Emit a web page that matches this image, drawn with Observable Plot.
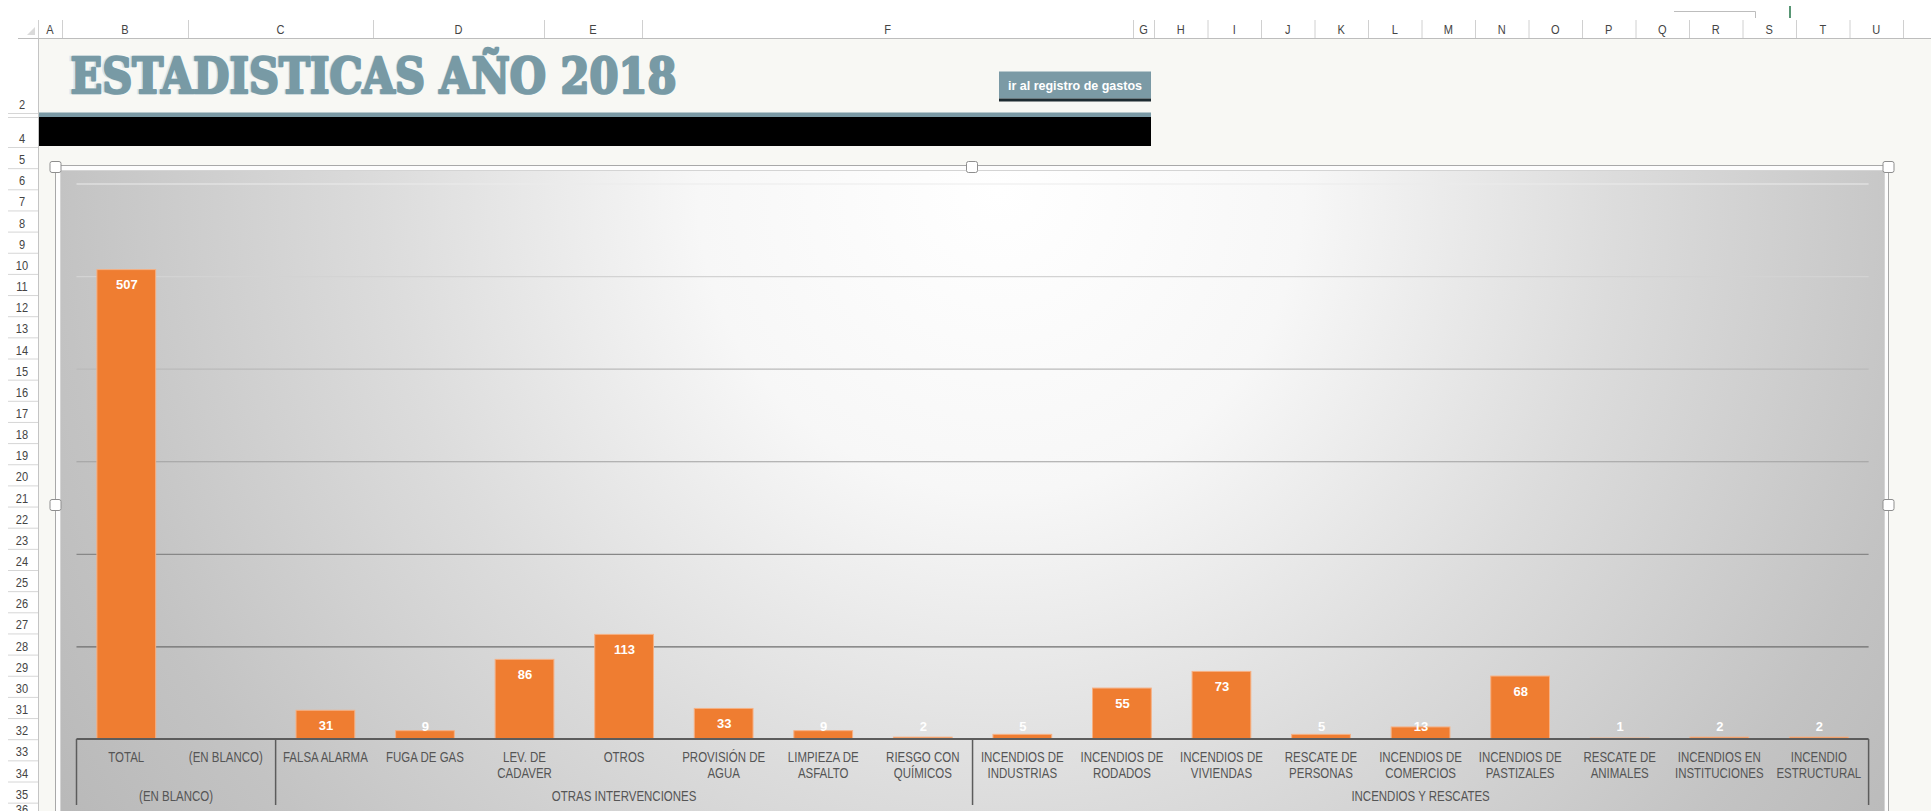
<!DOCTYPE html>
<html><head><meta charset="utf-8">
<script src="https://cdn.jsdelivr.net/npm/d3@7"></script>
<script src="https://cdn.jsdelivr.net/npm/@observablehq/plot@0.6"></script>
<style>
body{margin:0;width:1931px;height:811px;overflow:hidden;background:#f8f8f4;position:relative;font-family:"Liberation Sans",sans-serif}
#chrome{position:absolute;left:0;top:0}
#chart{position:absolute;left:60px;top:170px}
#overlay{position:absolute;left:0;top:0;pointer-events:none}
</style></head><body>
<svg id="chrome" width="1931" height="811"></svg>
<div id="chart"></div>
<svg id="overlay" width="1931" height="811"></svg>
<script>
// ---------- chart data ----------
const categories = ["TOTAL","(EN BLANCO)","FALSA ALARMA","FUGA DE GAS","LEV. DE CADAVER","OTROS","PROVISIÓN DE AGUA","LIMPIEZA DE ASFALTO","RIESGO CON QUÍMICOS","INCENDIOS DE INDUSTRIAS","INCENDIOS DE RODADOS","INCENDIOS DE VIVIENDAS","RESCATE DE PERSONAS","INCENDIOS DE COMERCIOS","INCENDIOS DE PASTIZALES","RESCATE DE ANIMALES","INCENDIOS EN INSTITUCIONES","INCENDIO ESTRUCTURAL"];
const axisLabels = ["TOTAL","(EN BLANCO)","FALSA ALARMA","FUGA DE GAS","LEV. DE\nCADAVER","OTROS","PROVISIÓN DE\nAGUA","LIMPIEZA DE\nASFALTO","RIESGO CON\nQUÍMICOS","INCENDIOS DE\nINDUSTRIAS","INCENDIOS DE\nRODADOS","INCENDIOS DE\nVIVIENDAS","RESCATE DE\nPERSONAS","INCENDIOS DE\nCOMERCIOS","INCENDIOS DE\nPASTIZALES","RESCATE DE\nANIMALES","INCENDIOS EN\nINSTITUCIONES","INCENDIO\nESTRUCTURAL"];
const values = [507,null,31,9,86,113,33,9,2,5,55,73,5,13,68,1,2,2];
const groups = ["(EN BLANCO)","OTRAS INTERVENCIONES","INCENDIOS Y RESCATES"];
const groupSizes = [2,7,9];
const yTicks = [100,200,300,400,500,600];

// ---------- spreadsheet chrome text ----------
const title = "ESTADISTICAS AÑO 2018";
const buttonText = "ir al registro de gastos";
const columnLetters = ["A","B","C","D","E","F","G","H","I","J","K","L","M","N","O","P","Q","R","S","T","U"];
const rowNumbers = [2,4,5,6,7,8,9,10,11,12,13,14,15,16,17,18,19,20,21,22,23,24,25,26,27,28,29,30,31,32,33,34,35,36];

// layout of the sheet grid (not chart data)
const colEdges = [38,62,188,373,544,642,1133,1154,1207.5,1261,1314.5,1368,1421.5,1475,1528.5,1582,1635.5,1689,1742.5,1796,1849.5,1903];
function rowBox(n){
  if(n===2) return [38,113];
  if(n===4) return [117,147];
  const t = 147 + (n-5)*21.15; return [t, t+21.15];
}
const SANS = "'Liberation Sans',Arial,sans-serif";

const chrome = d3.select("#chrome");
const defs = chrome.append("defs");
const rg = defs.append("radialGradient").attr("id","areaGrad").attr("gradientUnits","userSpaceOnUse")
  .attr("cx",1000).attr("cy",190).attr("r",1120);
[[0,"#ffffff"],[0.27,"#f7f7f7"],[0.55,"#dcdcdc"],[0.84,"#c3c3c3"],[1,"#b9b9b9"]]
  .forEach(([o,c])=>rg.append("stop").attr("offset",o).attr("stop-color",c));

// header strip & row column
chrome.append("rect").attr("x",0).attr("y",0).attr("width",1931).attr("height",38).attr("fill","#ffffff");
chrome.append("rect").attr("x",0).attr("y",38).attr("width",38).attr("height",773).attr("fill","#ffffff");
chrome.append("line").attr("x1",18).attr("x2",1931).attr("y1",38.5).attr("y2",38.5).attr("stroke","#bdbdbd");
chrome.append("line").attr("x1",38.5).attr("x2",38.5).attr("y1",20).attr("y2",811).attr("stroke","#c4c4c4");
chrome.append("path").attr("d","M27,35 L35,35 L35,27 Z").attr("fill","#dadada");
colEdges.forEach(x=>chrome.append("line").attr("x1",x+0.5).attr("x2",x+0.5).attr("y1",20).attr("y2",38).attr("stroke","#d0d0d0"));
columnLetters.forEach((c,i)=>{
  const cx = (colEdges[i]+colEdges[i+1])/2;
  chrome.append("text").attr("transform",`translate(${cx},33.5) scale(0.85,1)`).attr("text-anchor","middle")
    .attr("font-family",SANS).attr("font-size",13).attr("fill","#444").text(c);
});
// row separators
[113,117].concat(d3.range(5,37).map(n=>rowBox(n)[0])).forEach(y=>
  chrome.append("line").attr("x1",8).attr("x2",38).attr("y1",y+0.5).attr("y2",y+0.5).attr("stroke","#d6d6d6"));
rowNumbers.forEach(n=>{
  const [t,b] = rowBox(n);
  chrome.append("text").attr("transform",`translate(22,${Math.min(b-4, 814)}) scale(0.85,1)`).attr("text-anchor","middle")
    .attr("font-family",SANS).attr("font-size",13).attr("fill","#444").text(n);
});
// stray marks at the top right
chrome.append("path").attr("d","M1674,11.5 L1755.5,11.5 L1755.5,18").attr("fill","none").attr("stroke","#bdbdbd");
chrome.append("line").attr("x1",1790).attr("x2",1790).attr("y1",6).attr("y2",18).attr("stroke","#217346").attr("stroke-width",1.5);

// title
chrome.append("text").attr("x",68.5).attr("y",93).attr("font-family","'DejaVu Serif',serif").attr("font-weight","bold")
  .attr("font-size",48).attr("textLength",608).attr("lengthAdjust","spacingAndGlyphs")
  .attr("fill","#d6e8ef").attr("stroke","#d6e8ef").attr("stroke-width",2.5).text(title);
chrome.append("text").attr("x",70.5).attr("y",93).attr("font-family","'DejaVu Serif',serif").attr("font-weight","bold")
  .attr("font-size",48).attr("textLength",606).attr("lengthAdjust","spacingAndGlyphs")
  .attr("fill","#789aa5").attr("stroke","#789aa5").attr("stroke-width",2.5).attr("stroke-linejoin","round").text(title);
// button
chrome.append("rect").attr("x",999).attr("y",71.5).attr("width",152).attr("height",27).attr("fill","#7b9aa5");
chrome.append("rect").attr("x",999).attr("y",98.5).attr("width",152).attr("height",3).attr("fill","#1e2b31");
chrome.append("text").attr("x",1075).attr("y",90).attr("text-anchor","middle").attr("font-family",SANS)
  .attr("font-weight","bold").attr("font-size",12.5).attr("fill","#ffffff").text(buttonText);
// band under title
chrome.append("rect").attr("x",39).attr("y",112.5).attr("width",1112).attr("height",4.5).attr("fill","#7b9aa5");
chrome.append("rect").attr("x",39).attr("y",117).attr("width",1112).attr("height",29).attr("fill","#000000");

// chart frame and chart area
chrome.append("rect").attr("x",55.5).attr("y",165.5).attr("width",1833).attr("height",700).attr("fill","#fdfdfd").attr("stroke","#a8a8a8");
chrome.append("rect").attr("x",60.5).attr("y",170.5).attr("width",1824).attr("height",700).attr("fill","url(#areaGrad)").attr("stroke","#d4d4d4");

// ---------- the chart ----------
const data = categories.map((c,i)=>({cat:c, label:axisLabels[i], value:values[i]}));
const withValue = data.filter(d=>d.value!=null);
const gridColor = d3.scaleLinear().domain([100,600]).range(["#6e6e6e","#ececec"]);
const axisColor = "#5c5c5c";
const labelColor = "#555555";

function axisTable(index, scales, channels, dims){
  const x = scales.x;
  const bw = typeof x.bandwidth === "function" ? x.bandwidth() : 0;
  const step = typeof x.step === "function" ? x.step() : (x(categories[1]) - x(categories[0]));
  const y0 = dims.height - dims.marginBottom;
  const g = d3.create("svg:g");
  // category labels (level 1)
  categories.forEach((c,i)=>{
    const cx = x(c) + bw/2;
    axisLabels[i].split("\n").forEach((line,li)=>{
      g.append("text").attr("transform",`translate(${cx},${y0+22.5+li*16}) scale(0.82,1)`).attr("text-anchor","middle")
        .attr("font-family",SANS).attr("font-size",14).attr("fill",labelColor).text(line);
    });
  });
  // group labels (level 2) and separators
  const edges = [];
  let start = 0;
  groups.forEach((name,gi)=>{
    const first = categories[start], last = categories[start+groupSizes[gi]-1];
    const left = x(first) + bw/2 - step/2;
    const right = x(last) + bw/2 + step/2;
    edges.push(left);
    if(gi===groups.length-1) edges.push(right);
    g.append("text").attr("transform",`translate(${(left+right)/2},${y0+61.5}) scale(0.82,1)`).attr("text-anchor","middle")
      .attr("font-family",SANS).attr("font-size",14).attr("fill",labelColor).text(name);
    start += groupSizes[gi];
  });
  g.append("line").attr("x1",edges[0]).attr("x2",edges[edges.length-1]).attr("y1",y0).attr("y2",y0)
    .attr("stroke",axisColor).attr("stroke-width",1.8);
  edges.forEach(e=>g.append("line").attr("x1",e).attr("x2",e).attr("y1",y0).attr("y2",y0+66)
    .attr("stroke",axisColor).attr("stroke-width",1.5));
  return g.node();
}

const chart = Plot.plot({
  width:1824, height:641,
  marginLeft:16.5, marginRight:15.4, marginTop:13.5, marginBottom:72,
  style:{background:"transparent", fontFamily:SANS, overflow:"visible"},
  x:{domain:categories, paddingInner:0.41, paddingOuter:0.205, round:false, axis:null},
  y:{domain:[0,600], axis:null},
  marks:[
    Plot.ruleY(yTicks,{y:d=>d, stroke:d=>gridColor(d), strokeWidth:1.2}),
    Plot.barY(withValue,{x:"cat", y:"value", fill:"#ef7d31", stroke:"#f6b083", strokeWidth:1}),
    Plot.text(withValue,{x:"cat", y:d=>Math.max(d.value,30), dy:15, text:d=>String(d.value), fill:"#ffffff",
      fontWeight:"bold", fontSize:13, fontFamily:SANS}),
    axisTable
  ]
});
document.getElementById("chart").appendChild(chart);

// selection handles on top
const ov = d3.select("#overlay");
[[55.5,167],[972,167],[1888.5,167],[55.5,505],[1888.5,505]].forEach(([x,y])=>
  ov.append("rect").attr("x",x-5.5).attr("y",y-5.5).attr("width",11).attr("height",11).attr("rx",2)
    .attr("fill","#ffffff").attr("stroke","#8e8e8e"));
</script>
</body></html>
